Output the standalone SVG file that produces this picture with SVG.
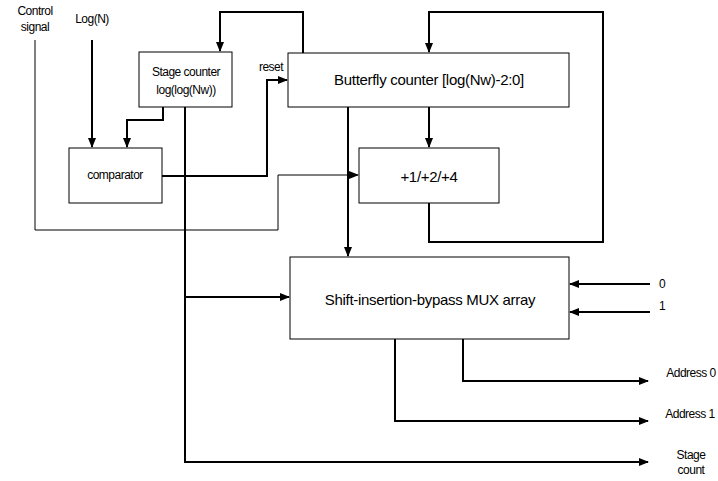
<svg xmlns="http://www.w3.org/2000/svg" width="718" height="481" viewBox="0 0 718 481">
<style>
.box{fill:#fff;stroke:#000;stroke-width:1}
.t{font-family:"Liberation Sans",Arial,sans-serif;fill:#000;text-anchor:middle}
.s{font-size:12px;letter-spacing:-0.5px}
.b{font-size:15px;letter-spacing:-0.3px}
.thick{fill:none;stroke:#000;stroke-width:2}
.thin{fill:none;stroke:#000;stroke-width:1}
</style>
<defs>
<marker id="ah" markerUnits="userSpaceOnUse" markerWidth="10" markerHeight="8" refX="9" refY="4" orient="auto">
<path d="M0,0 L10,4 L0,8 Z" fill="#000"/>
</marker>
</defs>
<rect width="718" height="481" fill="#fff"/>
<g id="connectors">
<path class="thick" d="M92,40 V147" marker-end="url(#ah)"/>
<path class="thin" d="M35,40 V230 H278 V175 H358" marker-end="url(#ah)"/>
<path class="thick" d="M163,107 V120 H127 V147" marker-end="url(#ah)"/>
<path class="thick" d="M185,107 V462 H648" marker-end="url(#ah)"/>
<path class="thick" d="M185,297 H289" marker-end="url(#ah)"/>
<path class="thick" d="M162,176 H267 V80 H287" marker-end="url(#ah)"/>
<path class="thick" d="M303,53 V12 H220 V51" marker-end="url(#ah)"/>
<path class="thick" d="M429,107 V147" marker-end="url(#ah)"/>
<path class="thick" d="M429,203 V242 H603 V12 H429 V52" marker-end="url(#ah)"/>
<path class="thick" d="M348,107 V256" marker-end="url(#ah)"/>
<path class="thick" d="M650,284 H570" marker-end="url(#ah)"/>
<path class="thick" d="M650,312 H570" marker-end="url(#ah)"/>
<path class="thick" d="M463,339 V381 H648" marker-end="url(#ah)"/>
<path class="thick" d="M395,339 V421 H648" marker-end="url(#ah)"/>
</g>
<g id="stage_counter">
<rect class="box" x="139" y="52" width="93" height="55"/>
<text class="t s" x="186" y="76">Stage counter</text>
<text class="t s" x="186" y="94">log(log(Nw))</text>
</g>
<g id="comparator">
<rect class="box" x="69" y="148" width="93" height="55"/>
<text class="t s" x="115" y="179">comparator</text>
</g>
<g id="butterfly_counter">
<rect class="box" x="288" y="53" width="281" height="54"/>
<text class="t b" x="429" y="85">Butterfly counter [log(Nw)-2:0]</text>
</g>
<g id="adder">
<rect class="box" x="359" y="148" width="140" height="55"/>
<text class="t b" x="429" y="182">+1/+2/+4</text>
</g>
<g id="mux">
<rect class="box" x="290" y="257" width="279" height="82"/>
<text class="t b" x="430" y="305">Shift-insertion-bypass MUX array</text>
</g>
<g id="labels">
<text class="t s" x="35" y="15">Control</text>
<text class="t s" x="35" y="31">signal</text>
<text class="t s" x="92" y="23">Log(N)</text>
<text class="t s" x="271" y="71">reset</text>
<text class="t s" x="662" y="288">0</text>
<text class="t s" x="662" y="310">1</text>
<text class="t s" x="691" y="377">Address 0</text>
<text class="t s" x="690" y="418">Address 1</text>
<text class="t s" x="691" y="459">Stage</text>
<text class="t s" x="691" y="474">count</text>
</g>
</svg>
